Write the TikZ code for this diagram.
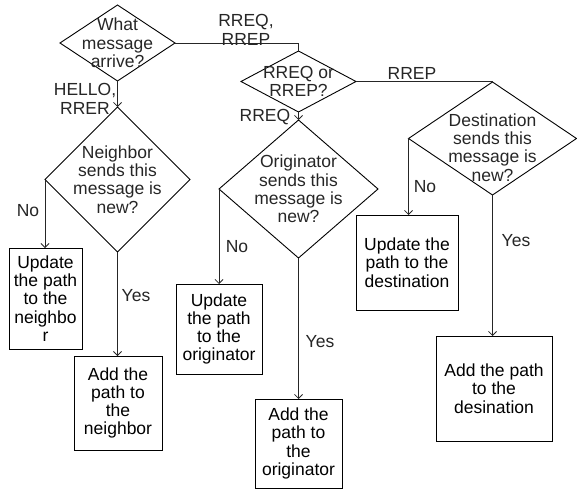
\documentclass[tikz,border=0pt]{standalone}
\usepackage{fontspec}
\setmainfont{Liberation Sans}
\usetikzlibrary{arrows.meta,shapes.geometric}

\tikzset{
	decision/.style={diamond, draw, inner sep=0pt, outer sep=0pt, line width=0.9pt},
	block/.style={rectangle, draw, inner sep=0pt, outer sep=0pt, align=center, line width=0.9pt},
	txt/.style={align=center, inner sep=0pt, text=black!85},
	line/.style={draw, line width=0.8pt, black!85},
	tip/.style={-{Straight Barb[length=4pt,width=8pt]}}
}

\begin{document}
\begin{tikzpicture}[x=1pt,y=-1pt,font=\fontsize{17.5}{18.3}\selectfont]
\useasboundingbox (0,0) rectangle (577,489);

% decisions
\node[decision, minimum width=115pt, minimum height=76pt] (msg) at (117.5,43) {};
\node[txt] (msgtxt) at (msg) {What\\message\\arrive?};
\node[decision, minimum width=115pt, minimum height=61pt] (kind) at (298.5,81.5) {};
\node[txt] (kindtxt) at (kind) {RREQ or\\RREP?};
\node[decision, minimum width=145pt, minimum height=145pt] (nbr) at (117.5,179.5) {};
\node[txt] (nbrtxt) at (nbr) {Neighbor\\sends this\\message is\\new?};
\node[decision, minimum width=159pt, minimum height=138pt] (orig) at (298.5,189) {};
\node[txt] (origtxt) at (orig) {Originator\\sends this\\message is\\new?};
\node[decision, minimum width=168pt, minimum height=113pt] (dest) at (492.5,138.5) {};
\node[txt] (desttxt) at (492.5,147.5) {Destination\\sends this\\message is\\new?};

% actions
\node[block, minimum width=73pt, minimum height=101pt] (nbrup) at (45.5,298.5) {Update\\the path\\to the\\neighbo\\r};
\node[block, minimum width=88pt, minimum height=94pt] (nbradd) at (118,403) {Add the\\path to\\the\\neighbor};
\node[block, minimum width=86pt, minimum height=90pt] (origup) at (219,329) {Update\\the path\\to the\\originator};
\node[block, minimum width=87pt, minimum height=89pt] (origadd) at (298.5,443.5) {Add the\\path to\\the\\originator};
\node[block, minimum width=102pt, minimum height=95pt] (destup) at (407,262.5) {Update the\\path to the\\destination};
\node[block, minimum width=116pt, minimum height=105pt] (destadd) at (494,388.5) {Add the path\\to the\\desination};

% connectors
\path[line] (msg.east) -| (kind.north);
\path[line] (kind.east) -| (dest.north);
\path[line,tip] (msg.south) -- (nbr.north);
\path[line,tip] (kind.south) -- (orig.north);
\path[line,tip] (nbr.west) -- (nbr.west |- nbrup.north);
\path[line,tip] (nbr.south) -- (nbr.south |- nbradd.north);
\path[line,tip] (orig.west) -- (orig.west |- origup.north);
\path[line,tip] (orig.south) -- (orig.south |- origadd.north);
\path[line,tip] (dest.west) -- (dest.west |- destup.north);
\path[line,tip] (dest.south) -- (dest.south |- destadd.north);

% branch labels
\node[txt] (lreqrep) at (246,30) {RREQ,\\RREP};
\node[txt] (lhello) at (85,99) {HELLO,\\RRER};
\node[txt] (lrrep) at (412,73) {RREP};
\node[txt] (lrreq) at (265,117) {RREQ};
\node[txt] (lnbrno) at (28,211) {No};
\node[txt] (lnbryes) at (136,296) {Yes};
\node[txt] (lorigno) at (237,247) {No};
\node[txt] (lorigyes) at (320,342) {Yes};
\node[txt] (ldestno) at (425,187) {No};
\node[txt] (ldestyes) at (516,241) {Yes};
\end{tikzpicture}
\end{document}
